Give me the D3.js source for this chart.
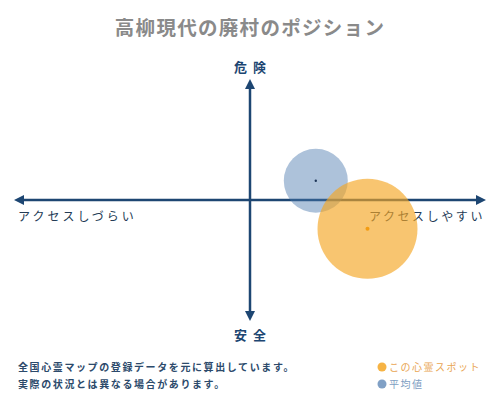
<!DOCTYPE html>
<html>
<head>
<meta charset="utf-8">
<script src="https://cdn.jsdelivr.net/npm/d3@7"></script>
<style>
  html, body { margin: 0; padding: 0; background: #fff; }
  svg { display: block; }
</style>
</head>
<body>
<svg id="chart"></svg>
<script>
// chart data
const seriesNames = ['この心霊スポット', '平均値'];
const xValues = [50, 28];       // アクセスしづらい(-100) .. アクセスしやすい(100)
const yValues = [-24, 16];      // 安全(-100) .. 危険(100)
const sizeValues = [50, 32];
const axisLabels = ['危険', '安全', 'アクセスしづらい', 'アクセスしやすい'];
const noteLines = ['全国心霊マップの登録データを元に算出しています。', '実際の状況とは異なる場合があります。'];
const titleText = '高柳現代の廃村のポジション';

const WIDTH = 500, HEIGHT = 400;
const AXIS_COLOR = '#1d4672';
const FILLS = ['#f5a623', '#4a77ad'];
const FILL_OPACITY = [0.65, 0.45];
const DOT_COLORS = ['#f39c12', '#1d3557'];
const LEGEND_TEXT = ['#e9a552', '#7d9ec2'];
const FONT = '"Noto Sans CJK JP", "Noto Sans", sans-serif';

const svg = d3.select('#chart')
    .attr('width', WIDTH)
    .attr('height', HEIGHT);

const x = d3.scaleLinear().domain([-100, 100]).range([15, 485]);
const y = d3.scaleLinear().domain([-100, 100]).range([320, 80]);
const r = d3.scaleLinear().domain([0, 50]).range([0, 50]);

// arrow markers
const defs = svg.append('defs');
defs.append('marker')
    .attr('id', 'arrow')
    .attr('viewBox', '0 0 10 10')
    .attr('refX', 5).attr('refY', 5)
    .attr('markerWidth', 4).attr('markerHeight', 4)
    .attr('orient', 'auto-start-reverse')
    .append('path')
    .attr('d', 'M0,0 L10,5 L0,10 z')
    .attr('fill', AXIS_COLOR);

svg.append('text')
    .attr('x', WIDTH / 2)
    .attr('y', 35)
    .attr('text-anchor', 'middle')
    .style('font-family', FONT)
    .style('font-size', '19.5px')
    .style('font-weight', '700')
    .style('letter-spacing', '1.3px')
    .style('fill', '#8a8a8a')
    .text(titleText);

// axes
svg.append('line')
    .attr('x1', x(-100) + 4).attr('x2', x(100) - 4)
    .attr('y1', y(0)).attr('y2', y(0))
    .attr('stroke', AXIS_COLOR)
    .attr('stroke-width', 2.5)
    .attr('marker-start', 'url(#arrow)')
    .attr('marker-end', 'url(#arrow)');

svg.append('line')
    .attr('x1', x(0)).attr('x2', x(0))
    .attr('y1', y(100) + 4).attr('y2', y(-100) - 4)
    .attr('stroke', AXIS_COLOR)
    .attr('stroke-width', 2.5)
    .attr('marker-start', 'url(#arrow)')
    .attr('marker-end', 'url(#arrow)');

svg.selectAll('.pole')
    .data([axisLabels[0], axisLabels[1]])
    .enter()
    .append('text')
    .attr('class', 'pole')
    .attr('x', x(0) + 3)
    .attr('y', (d, i) => i === 0 ? 72 : 340)
    .attr('text-anchor', 'middle')
    .style('font-family', FONT).style('font-size', '13px').style('font-weight', '700')
    .style('letter-spacing', '6px')
    .style('fill', AXIS_COLOR)
    .text(d => d);

svg.append('text')
    .attr('x', 18).attr('y', 221)
    .style('font-family', FONT).style('font-size', '12px')
    .style('letter-spacing', '3px')
    .style('fill', '#243b55')
    .text(axisLabels[2]);

svg.append('text')
    .attr('x', 485).attr('y', 221)
    .attr('text-anchor', 'end')
    .style('font-family', FONT).style('font-size', '12px')
    .style('letter-spacing', '2.6px')
    .style('fill', '#243b55')
    .text(axisLabels[3]);

// bubbles: average first, this spot on top
const points = seriesNames.map((name, i) => ({
    name, x: xValues[i], y: yValues[i], size: sizeValues[i], i
}));
const order = [points[1], points[0]];

svg.selectAll('.bubble')
    .data(order)
    .enter()
    .append('circle')
    .attr('class', 'bubble')
    .attr('cx', d => x(d.x))
    .attr('cy', d => y(d.y))
    .attr('r', d => r(d.size))
    .attr('fill', d => FILLS[d.i])
    .attr('fill-opacity', d => FILL_OPACITY[d.i]);

svg.selectAll('.center-dot')
    .data(order)
    .enter()
    .append('circle')
    .attr('class', 'center-dot')
    .attr('cx', d => x(d.x))
    .attr('cy', d => y(d.y))
    .attr('r', d => d.i === 0 ? 2 : 1.2)
    .attr('fill', d => DOT_COLORS[d.i]);

// notes
svg.selectAll('.note')
    .data(noteLines)
    .enter()
    .append('text')
    .attr('class', 'note')
    .attr('x', 18)
    .attr('y', (d, i) => 371 + i * 17)
    .style('font-family', FONT)
    .style('font-size', '10px')
    .style('font-weight', '700')
    .style('letter-spacing', '1.6px')
    .style('fill', '#2c4a6b')
    .text(d => d);

// legend
const legend = svg.selectAll('.legend')
    .data(points)
    .enter()
    .append('g')
    .attr('class', 'legend')
    .attr('transform', (d, i) => `translate(382, ${367 + i * 17})`);

legend.append('circle')
    .attr('r', 4.5)
    .attr('fill', d => FILLS[d.i])
    .attr('fill-opacity', d => d.i === 0 ? 0.85 : 0.7);

legend.append('text')
    .attr('x', 7)
    .attr('y', 4)
    .style('font-family', FONT)
    .style('font-size', '10px')
    .style('letter-spacing', '1.5px')
    .style('fill', d => LEGEND_TEXT[d.i])
    .text(d => d.name);
</script>
</body>
</html>
